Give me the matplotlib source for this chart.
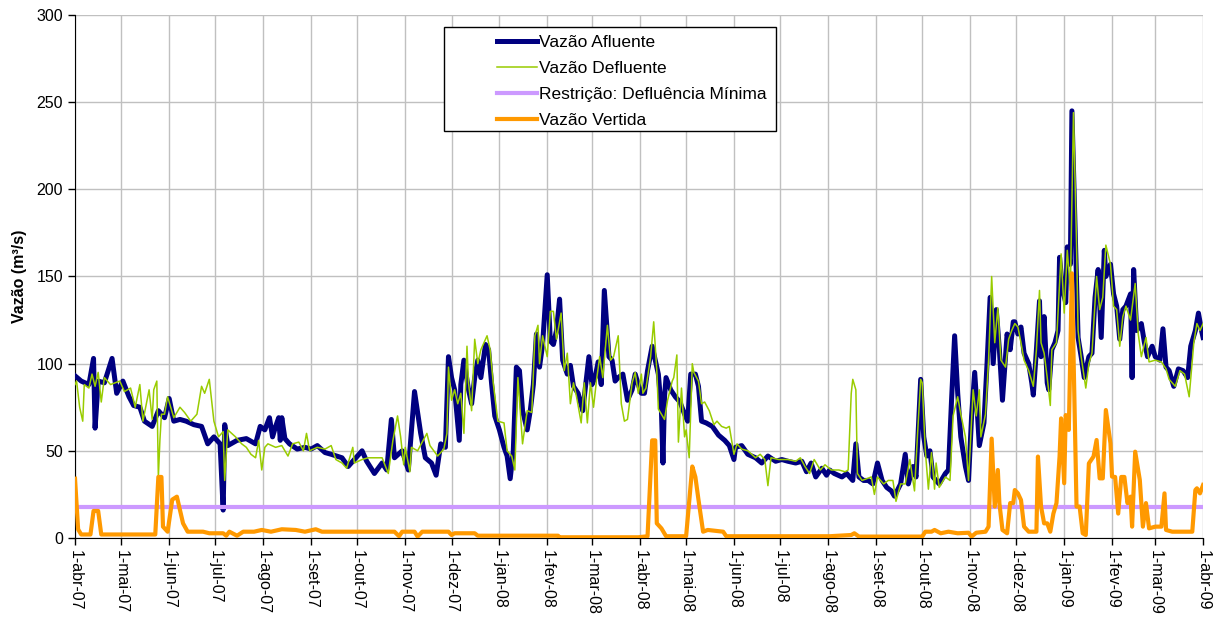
import matplotlib
matplotlib.use('Agg')
import matplotlib.pyplot as plt
import pandas as pd
from matplotlib.patches import Rectangle

plt.rcParams['font.family'] = ['Liberation Sans', 'DejaVu Sans']

# days counted from 1-abr-07
afl_days = [0, 4, 9, 12, 13, 15, 19, 24, 27, 31, 35, 38, 42, 45, 50, 54, 58, 61, 64, 68,
            72, 77, 82, 86, 90, 94, 96, 97, 99, 105, 111, 117, 120, 123, 126, 128, 130, 132, 133, 134,
            136, 139, 144, 149, 153, 157, 162, 166, 173, 177, 181, 186, 189, 194, 199, 202, 205, 207, 212, 216,
            220, 224, 227, 231, 234, 237, 240, 242, 244, 246, 249, 250, 252, 255, 257, 259, 261, 263, 266, 268,
            270, 272, 275, 278, 280, 282, 284, 286, 288, 290, 293, 295, 297, 299, 301, 303, 306, 308, 310, 312,
            314, 316, 319, 321, 323, 326, 329, 333, 335, 337, 339, 341, 343, 346, 348, 350, 352, 355, 358, 361,
            363, 365, 367, 369, 371, 374, 376, 378, 380, 381, 382, 383, 386, 389, 392, 395, 397, 399, 402, 404,
            406, 409, 413, 417, 421, 424, 427, 428, 432, 436, 441, 445, 449, 454, 458, 462, 467, 471, 474, 477,
            480, 484, 487, 489, 492, 497, 500, 502, 504, 506, 508, 511, 514, 517, 520, 523, 526, 529, 531, 535,
            538, 540, 543, 545, 548, 550, 552, 554, 556, 558, 560, 564, 566, 568, 570, 572, 574, 577, 579, 581,
            583, 585, 586, 589, 591, 593, 595, 597, 599, 601, 604, 606, 608, 609, 611, 613, 615, 618, 620, 621,
            623, 625, 626, 628, 630, 631, 633, 635, 637, 638, 640, 642, 643, 645, 646, 648, 650, 652, 654, 657,
            659, 661, 663, 665, 667, 668, 671, 673, 675, 677, 679, 681, 684, 685, 686, 688, 691, 693, 695, 698,
            700, 703, 705, 707, 709, 712, 715, 718, 721, 723, 726, 728, 730, 731]
afl_vals = [93, 90, 88, 103, 63, 90, 89, 103, 83, 90, 81, 76, 75, 67, 64, 73, 69, 80, 67, 68,
            67, 65, 64, 54, 58, 54, 16, 65, 53, 56, 57, 54, 64, 62, 69, 58, 64, 69, 56, 69,
            57, 54, 51, 52, 51, 53, 49, 48, 46, 41, 45, 50, 44, 37, 43, 39, 68, 46, 50, 39,
            84, 60, 46, 43, 36, 54, 52, 104, 92, 85, 56, 88, 102, 85, 77, 92, 102, 92, 111, 108,
            88, 70, 62, 52, 47, 34, 50, 98, 96, 73, 62, 73, 88, 117, 98, 111, 151, 113, 111, 119,
            137, 102, 94, 99, 87, 83, 73, 104, 88, 92, 101, 88, 142, 104, 102, 90, 92, 94, 79, 85,
            94, 88, 83, 83, 96, 110, 102, 94, 73, 43, 81, 92, 85, 81, 78, 71, 67, 94, 94, 87,
            67, 66, 64, 59, 56, 53, 45, 52, 53, 48, 46, 43, 47, 44, 45, 44, 43, 44, 38, 43,
            35, 40, 36, 39, 37, 35, 37, 35, 33, 54, 35, 33, 33, 31, 43, 33, 29, 27, 24, 31,
            48, 31, 41, 35, 91, 58, 47, 50, 35, 33, 31, 37, 39, 79, 116, 83, 58, 41, 33, 70,
            95, 68, 53, 66, 100, 138, 100, 131, 108, 79, 117, 108, 124, 124, 117, 121, 106, 100, 89, 82,
            108, 136, 104, 127, 89, 85, 108, 112, 119, 161, 142, 135, 167, 157, 245, 180, 115, 104, 92, 104,
            106, 138, 154, 115, 165, 150, 157, 140, 133, 114, 131, 133, 140, 92, 154, 119, 123, 112, 104, 110,
            104, 102, 120, 98, 96, 87, 97, 96, 92, 110, 119, 129, 119, 115]

def_days = [0, 1, 3, 5, 6, 9, 11, 13, 15, 17, 19, 23, 26, 29, 32, 36, 39, 42, 44, 48,
            50, 51, 53, 54, 55, 56, 58, 60, 64, 68, 71, 75, 79, 82, 84, 87, 90, 93, 96, 97,
            99, 104, 108, 111, 114, 117, 119, 121, 123, 125, 130, 134, 138, 141, 145, 148, 150, 152, 157, 162,
            166, 169, 173, 176, 180, 181, 186, 190, 194, 199, 203, 206, 209, 211, 213, 214, 217, 218, 222, 228,
            230, 235, 239, 241, 242, 244, 246, 248, 250, 252, 254, 255, 257, 259, 261, 263, 265, 267, 269, 271,
            274, 278, 280, 283, 285, 287, 290, 293, 296, 298, 300, 301, 303, 306, 308, 310, 312, 315, 317, 319,
            321, 323, 325, 328, 330, 332, 334, 336, 338, 340, 342, 345, 347, 349, 352, 354, 356, 358, 361, 363,
            365, 367, 368, 370, 373, 375, 377, 378, 382, 384, 387, 388, 390, 391, 393, 395, 396, 398, 400, 401,
            404, 406, 408, 411, 414, 416, 419, 422, 424, 427, 429, 432, 436, 441, 444, 447, 449, 451, 456, 462,
            467, 470, 473, 476, 479, 483, 486, 490, 495, 499, 501, 503, 504, 506, 507, 510, 513, 516, 518, 520,
            524, 527, 530, 532, 535, 538, 541, 544, 546, 548, 549, 551, 553, 555, 557, 558, 560, 564, 567, 569,
            572, 574, 577, 579, 582, 584, 586, 587, 590, 592, 594, 596, 598, 600, 603, 605, 607, 609, 611, 613,
            615, 618, 621, 623, 625, 626, 628, 630, 632, 633, 636, 638, 639, 641, 643, 645, 647, 649, 650, 652,
            655, 657, 659, 662, 664, 666, 668, 671, 673, 675, 677, 679, 681, 684, 687, 689, 691, 694, 696, 700,
            704, 707, 709, 713, 716, 719, 722, 725, 727, 729, 731]
def_vals = [88, 90, 75, 67, 88, 86, 94, 87, 95, 78, 92, 88, 89, 90, 84, 86, 75, 88, 67, 85,
            68, 85, 90, 35, 56, 71, 71, 81, 69, 75, 72, 67, 71, 87, 83, 91, 67, 58, 61, 33,
            62, 58, 54, 52, 48, 46, 56, 39, 52, 54, 52, 53, 47, 54, 55, 50, 60, 50, 52, 51,
            53, 45, 43, 40, 52, 43, 45, 46, 46, 46, 37, 56, 70, 58, 42, 52, 38, 52, 50, 60,
            53, 47, 51, 60, 98, 79, 85, 77, 83, 60, 110, 89, 73, 114, 100, 108, 112, 116, 108, 89,
            67, 66, 50, 47, 39, 92, 54, 73, 72, 116, 122, 100, 116, 104, 130, 130, 114, 129, 96, 106,
            77, 89, 81, 66, 89, 66, 89, 75, 91, 104, 92, 122, 102, 104, 116, 77, 67, 68, 89, 95,
            83, 94, 83, 86, 104, 124, 96, 74, 68, 79, 90, 92, 105, 55, 86, 58, 62, 46, 100, 95,
            90, 77, 78, 73, 65, 67, 64, 63, 64, 48, 54, 51, 50, 46, 48, 45, 30, 46, 45, 45,
            44, 46, 41, 37, 45, 39, 42, 39, 39, 38, 39, 83, 91, 85, 37, 33, 34, 35, 25, 35,
            31, 33, 33, 21, 31, 31, 45, 27, 60, 91, 89, 50, 28, 49, 28, 43, 29, 35, 33, 70,
            81, 71, 58, 33, 85, 70, 85, 58, 71, 102, 150, 112, 132, 102, 98, 114, 119, 123, 121, 112,
            102, 96, 87, 108, 142, 112, 106, 92, 76, 108, 112, 146, 163, 129, 165, 142, 244, 169, 119, 104,
            86, 100, 106, 150, 131, 138, 168, 157, 133, 131, 110, 127, 133, 125, 146, 117, 104, 115, 101, 102,
            101, 97, 91, 87, 96, 94, 81, 112, 123, 119, 123]

ver_days = [0, 2, 4, 10, 12, 15, 17, 52, 54, 56, 57, 60, 63, 66, 68, 70, 73, 83, 87, 96,
            98, 100, 105, 109, 116, 121, 127, 134, 143, 149, 156, 160, 181, 207, 210, 212, 220, 222, 225, 242,
            244, 246, 259, 261, 313, 314, 365, 371, 374, 376, 377, 380, 383, 396, 400, 402, 404, 407, 410, 420,
            422, 489, 503, 505, 508, 549, 551, 555, 557, 561, 566, 572, 579, 581, 584, 590, 592, 594, 596, 598,
            599, 601, 604, 606, 608, 609, 611, 613, 615, 618, 623, 624, 626, 628, 630, 632, 634, 636, 638, 639,
            641, 642, 644, 646, 648, 649, 651, 653, 655, 657, 660, 662, 664, 666, 668, 671, 672, 674, 676, 678,
            680, 682, 684, 685, 687, 690, 692, 694, 696, 700, 704, 706, 707, 711, 724, 726, 727, 729, 731]
ver_vals = [34, 5, 2, 2, 15.5, 15.5, 2, 2, 35, 35, 6.5, 3.6, 22, 23.7, 16, 8.4, 3.6, 3.6, 2.7, 2.7,
            1.3, 3.6, 1.3, 3.6, 3.6, 4.6, 3.6, 5, 4.6, 3.6, 5, 3.6, 3.6, 3.6, 1, 3.6, 3.6, 0.8, 3.6, 3.6,
            1.7, 2.7, 2.7, 1.3, 1.3, 0.4, 0.4, 1, 56, 56, 8.4, 5.5, 1, 1, 41, 35, 22, 3.6, 4.6, 3.6,
            1, 1, 1.7, 2.7, 0.8, 0.8, 3.6, 3.6, 4.6, 2.7, 3.6, 2.7, 3, 0.8, 3, 3.6, 6.5, 57, 18, 39,
            20, 4.6, 2.7, 20, 20, 27.5, 25.6, 21.8, 6.5, 3.6, 3.6, 46.7, 18, 8.4, 8.4, 3.6, 14, 20, 46.7, 68.6,
            31.4, 70.5, 62, 151.8, 62, 18, 18, 2.7, 1.7, 42.8, 46.7, 56.2, 34.2, 34.2, 73.4, 54.3, 35.2, 35, 14, 35,
            35, 20, 23.7, 6.5, 49.5, 33.3, 6.5, 20, 5.5, 6.5, 6.5, 25.6, 4.6, 3.6, 3.6, 27.5, 28.5, 25.6, 30.4]

restricao_min = 18
total_days = 731

month_labels = ['1-abr-07', '1-mai-07', '1-jun-07', '1-jul-07', '1-ago-07', '1-set-07', '1-out-07',
                '1-nov-07', '1-dez-07', '1-jan-08', '1-fev-08', '1-mar-08', '1-abr-08', '1-mai-08',
                '1-jun-08', '1-jul-08', '1-ago-08', '1-set-08', '1-out-08', '1-nov-08', '1-dez-08',
                '1-jan-09', '1-fev-09', '1-mar-09', '1-abr-09']

start = pd.Timestamp('2007-04-01')


def to_dates(days):
    return start + pd.to_timedelta(days, unit='D')


fig = plt.figure(figsize=(12.14, 6.2), dpi=100)
ax = fig.add_axes([0.0618, 0.1323, 0.9292, 0.8435])

ax.plot(to_dates(afl_days), afl_vals, color='#000080', lw=3.6, label='Vazão Afluente', zorder=3)
ax.plot(to_dates(def_days), def_vals, color='#99CC00', lw=1.1, label='Vazão Defluente', zorder=4)
ax.plot(to_dates([0, total_days]), [restricao_min, restricao_min], color='#CC99FF', lw=3.0,
        label='Restrição: Defluência Mínima', zorder=5)
ax.plot(to_dates(ver_days), ver_vals, color='#FF9900', lw=3.0, label='Vazão Vertida', zorder=6)

ax.set_xlim(to_dates(0), to_dates(total_days))
ax.set_ylim(0, 300)
ax.set_yticks(range(0, 301, 50))
ax.set_xticks(pd.date_range('2007-04-01', '2009-04-01', freq='MS'))
ax.set_xticklabels(month_labels, rotation=-90, ha='center', va='top')
ax.tick_params(direction='out', length=5, width=1, labelsize=11.5, colors='black')

ax.grid(True, color='#c0c0c0', lw=1)
ax.set_axisbelow(True)
ax.spines['top'].set_visible(False)
ax.spines['right'].set_visible(False)

ax.set_ylabel('Vazão (m³/s)', fontsize=11.5, fontweight='bold', labelpad=7)

# legend box (frame drawn separately to keep the wide left margin of the original)
ax.add_patch(Rectangle((0.327, 0.778), 0.2945, 0.199, transform=ax.transAxes,
                       facecolor='white', edgecolor='black', lw=1, zorder=7, clip_on=False))
leg = ax.legend(loc='upper left', bbox_to_anchor=(0.374, 0.9618), frameon=False,
                fontsize=12.5, borderpad=0, borderaxespad=0, handlelength=2.3,
                handletextpad=0.15, labelspacing=0.63)
leg.set_zorder(8)

fig.savefig('out.png', dpi=100)
